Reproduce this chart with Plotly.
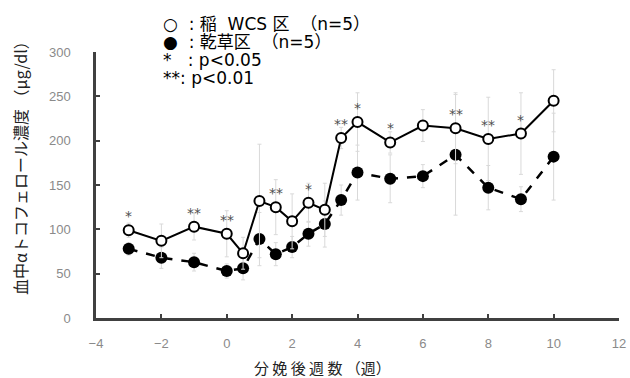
import plotly.graph_objects as go

weeks = [-3, -2, -1, 0, 0.5, 1, 1.5, 2, 2.5, 3, 3.5, 4, 5, 6, 7, 8, 9, 10]
wcs = [99, 87, 103, 95, 73, 132, 125, 109, 130, 122, 203, 221, 198, 217, 214, 202, 208, 245]
wcs_err = [8, 19, 15, 26, 18, 64, 31, 31, 22, 30, 12, 33, 12, 18, 40, 47, 46, 35]
hay = [78, 68, 63, 53, 56, 89, 72, 80, 95, 106, 133, 164, 157, 160, 184, 147, 134, 182]
hay_err = [7, 12, 10, 8, 13, 30, 13, 12, 14, 26, 17, 31, 27, 13, 68, 25, 14, 49]
sig = ["*", "", "**", "**", "", "", "**", "", "*", "", "**", "*", "*", "", "**", "**", "*", ""]

x_ticks = [-4, -2, 0, 2, 4, 6, 8, 10, 12]
y_ticks = [0, 50, 100, 150, 200, 250, 300]

NB = "\u00a0"
legend_lines = [
    "○" + NB * 2 + ":" + NB + "稲" + NB * 2 + "WCS" + NB + "区" + NB * 2 + "（n=5）",
    "●" + NB * 2 + ":" + NB + "乾草区" + NB * 2 + "（n=5）",
    "*" + NB * 3 + ":" + NB + "p<0.05",
    "**:" + NB + "p<0.01",
]
x_title = "分 娩 後 週 数 （週）"
y_title = "血中αトコフェロール濃度 （μg/dl）"

W, H = 630, 378
L, R, T, B = 96, 11, 52, 60
pw, ph = W - L - R, H - T - B

fig = go.Figure()
fig.add_trace(go.Scatter(
    x=weeks, y=hay, mode="lines+markers",
    line=dict(color="black", width=2.5, dash="dash"),
    marker=dict(color="black", size=12),
    error_y=dict(type="data", array=hay_err, color="#d9d9d9", thickness=1, width=2),
    showlegend=False))
fig.add_trace(go.Scatter(
    x=weeks, y=wcs, mode="lines+markers",
    line=dict(color="black", width=2),
    marker=dict(color="white", size=10, line=dict(color="black", width=2)),
    error_y=dict(type="data", array=wcs_err, color="#d9d9d9", thickness=1, width=2),
    showlegend=False))

for xv, yv, s in zip(weeks, wcs, sig):
    if s:
        fig.add_annotation(x=xv, y=yv, text=s, showarrow=False, yshift=14,
                           font=dict(size=14, color="#505050", family="DejaVu Sans"))

for i, t in enumerate(legend_lines):
    fig.add_annotation(xref="paper", yref="paper", x=(161 - L) / pw, y=1 + (T - 24 - i * 18) / ph,
                       text=t, showarrow=False, xanchor="left", yanchor="middle",
                       font=dict(size=17, color="black", family="DejaVu Sans, Noto Sans CJK JP"))

fig.add_annotation(xref="paper", yref="paper", x=(20 - L) / pw, y=(H - B - 164) / ph,
                   text=y_title, textangle=-90, showarrow=False, xanchor="center", yanchor="middle",
                   font=dict(size=16, color="#222222", family="Noto Sans CJK JP"))
fig.add_annotation(xref="paper", yref="paper", x=(322 - L) / pw, y=-(367 - (H - B)) / ph,
                   text=x_title, showarrow=False, xanchor="center", yanchor="middle",
                   font=dict(size=15, color="#222222", family="Noto Sans CJK JP"))

fig.update_layout(
    width=W, height=H,
    margin=dict(l=L, r=R, t=T, b=B, autoexpand=False),
    paper_bgcolor="white", plot_bgcolor="white",
    font=dict(family="Noto Sans CJK JP", color="black"),
    xaxis=dict(range=[-4, 12], tickvals=x_ticks, ticks="inside", ticklen=4, tickwidth=2,
               tickcolor="#404040", showline=True, linecolor="#404040", linewidth=2.5,
               showgrid=False, zeroline=False, automargin=False,
               tickfont=dict(size=13, color="#8a8a8a", family="Liberation Sans"),
               ticklabelstandoff=12),
    yaxis=dict(range=[0, 300], tickvals=y_ticks, ticks="inside", ticklen=4, tickwidth=2,
               tickcolor="#404040", showline=True, linecolor="#404040", linewidth=2.5,
               showgrid=False, zeroline=False, automargin=False,
               tickfont=dict(size=13, color="#8a8a8a", family="Liberation Sans"),
               ticklabelstandoff=20),
)

fig.write_html("out.html", config={"displayModeBar": False},
               post_script="document.body.style.margin='0';document.body.style.overflow='hidden';")
